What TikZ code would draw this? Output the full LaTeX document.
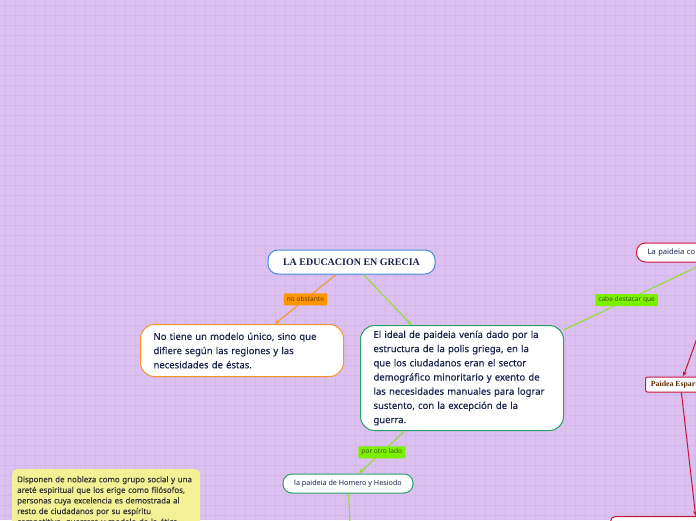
\documentclass[tikz,border=0pt]{standalone}
\usepackage{fontspec}
\setmainfont{Noto Sans}
\newfontfamily\rootfont{Liberation Serif}
\newfontfamily\semifont[FakeBold=0.35]{Noto Sans}
\usetikzlibrary{arrows.meta}

\definecolor{bgpurple}{RGB}{220,192,240}
\definecolor{gridpurple}{RGB}{212,183,234}
\definecolor{rootblue}{RGB}{70,140,220}
\definecolor{navytext}{RGB}{25,35,75}
\definecolor{orangeline}{RGB}{245,150,40}
\definecolor{orangelbl}{RGB}{255,150,0}
\definecolor{orangetxt}{RGB}{110,55,0}
\definecolor{limeline}{RGB}{140,225,40}
\definecolor{limelbl}{RGB}{125,240,0}
\definecolor{limetxt}{RGB}{50,90,0}
\definecolor{greenborder}{RGB}{40,160,100}
\definecolor{crimson}{RGB}{200,20,60}
\definecolor{browntxt}{RGB}{90,40,0}
\definecolor{paleyellow}{RGB}{244,240,150}
\definecolor{graytxt}{RGB}{50,50,50}

\tikzset{
  gridline/.style={gridpurple, line width=0.5pt},
  rootbox/.style={draw=rootblue, fill=white, line width=1pt, rounded corners=10pt,
    minimum width=167, minimum height=24, inner sep=0pt, text=navytext,
    font=\rootfont\bfseries\fontsize{10}{12}\selectfont},
  bigbox/.style={fill=white, line width=1pt, rounded corners=14pt,
    text width=177, inner xsep=13, align=left, text=navytext,
    font=\semifont\fontsize{9.5}{14.2}\selectfont},
  smallbox/.style={fill=white, line width=1pt, rounded corners=9pt,
    inner sep=0pt, text=navytext, font=\fontsize{7.2}{9}\selectfont},
  lbl/.style={inner xsep=3pt, inner ysep=0pt, minimum height=12, rounded corners=1pt,
    font=\fontsize{6.6}{8}\selectfont},
  orangelabel/.style={lbl, fill=orangelbl, text=orangetxt},
  limelabel/.style={lbl, fill=limelbl, text=limetxt},
  arr/.style={line width=1pt, -{Stealth[length=5pt,width=4pt]}},
  yellowbox/.style={fill=paleyellow, rounded corners=5pt, text width=178,
    inner xsep=5, inner ysep=7, align=left, text=graytxt,
    font=\semifont\fontsize{7.9}{10.6}\selectfont, anchor=north west}
}

\begin{document}
\begin{tikzpicture}[x=1pt,y=-1pt]
\useasboundingbox (0,0) rectangle (696,520);
\begin{scope}
\clip (0,0) rectangle (696,520);
\fill[bgpurple] (0,0) rectangle (696,520);
\foreach \i in {5,15,...,695} \draw[gridline] (\i,0) -- (\i,520);
\foreach \j in {5,15,...,515} \draw[gridline] (0,\j) -- (696,\j);

% nodes
\node[rootbox] (root) at (351.5,262) {LA EDUCACION EN GRECIA};

\node[bigbox, draw=orangeline, minimum height=52, anchor=north west] (modelo) at (140,324)
  {No tiene un modelo único, sino que\\difiere según las regiones y las\\necesidades de éstas.};

\node[bigbox, draw=greenborder, minimum height=105, anchor=north west] (ideal) at (360,325)
  {El ideal de paideia venía dado por la\\estructura de la polis griega, en la\\que los ciudadanos eran el sector\\demográfico minoritario y exento de\\las necesidades manuales para lograr\\sustento, con la excepción de la\\guerra.};

\node[smallbox, draw=greenborder, minimum width=130, minimum height=19] (homero) at (348,483.5)
  {la paideia de Homero y Hesiodo};

\node[smallbox, draw=crimson, minimum width=174, minimum height=19, anchor=west,
      text width=160, align=left, inner xsep=11pt, font=\fontsize{7.6}{9}\selectfont] (lapaideia) at (636,252.5)
  {La paideia co};

\node[draw=crimson, fill=white, line width=1pt, rounded corners=2pt, minimum width=70,
      minimum height=15, anchor=west, inner xsep=5pt, inner ysep=0pt, text=browntxt,
      font=\rootfont\bfseries\fontsize{7.8}{9}\selectfont] (esparta) at (645,384.5)
  {Paidea Espartana};

\node[draw=crimson, fill=white, line width=1pt, rounded corners=5pt, minimum width=175,
      minimum height=40, anchor=north west] (bottomright) at (610,516) {};

\node[draw=greenborder, fill=white, line width=1pt, minimum width=100, minimum height=20] (homchild) at (352,560) {};

\node[yellowbox] (nobleza) at (12,469)
  {Disponen de nobleza como grupo social y una\\areté espiritual que los erige como filósofos,\\personas cuya excelencia es demostrada al\\resto de ciudadanos por su espíritu\\competitivo, guerrero y modelo de la ética};

% connectors
\draw[arr, orangeline] (root) -- node[orangelabel] {no obstante} (modelo);
\draw[arr, limeline] (root) -- (ideal);
\draw[arr, limeline] (ideal) -- node[limelabel, pos=0.44] {cabe destacar que} (lapaideia);
\draw[arr, limeline] (ideal) -- node[limelabel] {por otro lado} (homero);
\draw[arr, limeline] (homero) -- (homchild);
\draw[arr, crimson] (lapaideia) -- (esparta);
\draw[arr, crimson] (esparta) -- (bottomright);
\end{scope}
\end{tikzpicture}
\end{document}
